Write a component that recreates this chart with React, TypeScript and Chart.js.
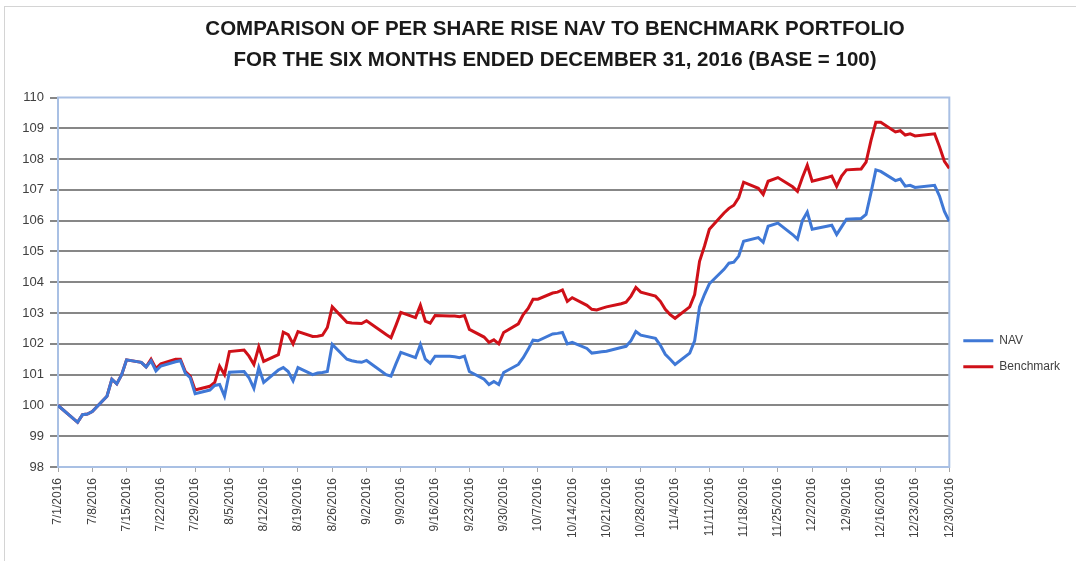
import React, { useEffect, useRef } from "react";
import { Chart, registerables } from "chart.js";

Chart.register(...registerables);

const TITLE_LINES = [
  "COMPARISON OF PER SHARE RISE NAV TO BENCHMARK PORTFOLIO",
  "FOR THE SIX MONTHS ENDED DECEMBER 31, 2016 (BASE = 100)",
];
const SERIES_NAMES = ["NAV", "Benchmark"];

// trading days (2016)
const tradingDates = [
  "7/1", "7/5", "7/6", "7/7", "7/8", "7/11", "7/12", "7/13", "7/14", "7/15",
  "7/18", "7/19", "7/20", "7/21", "7/22", "7/25", "7/26", "7/27", "7/28", "7/29",
  "8/1", "8/2", "8/3", "8/4", "8/5", "8/8", "8/9", "8/10", "8/11", "8/12",
  "8/15", "8/16", "8/17", "8/18", "8/19", "8/22", "8/23", "8/24", "8/25", "8/26",
  "8/29", "8/30", "8/31",
  "9/1", "9/2", "9/6", "9/7", "9/8", "9/9", "9/12", "9/13", "9/14", "9/15", "9/16",
  "9/19", "9/20", "9/21", "9/22", "9/23", "9/26", "9/27", "9/28", "9/29", "9/30",
  "10/3", "10/4", "10/5", "10/6", "10/7", "10/10", "10/11", "10/12", "10/13", "10/14",
  "10/17", "10/18", "10/19", "10/20", "10/21", "10/24", "10/25", "10/26", "10/27", "10/28",
  "10/31",
  "11/1", "11/2", "11/3", "11/4", "11/7", "11/8", "11/9", "11/10", "11/11",
  "11/14", "11/15", "11/16", "11/17", "11/18", "11/21", "11/22", "11/23", "11/25",
  "11/28", "11/29", "11/30",
  "12/1", "12/2", "12/5", "12/6", "12/7", "12/8", "12/9", "12/12", "12/13", "12/14",
  "12/15", "12/16", "12/19", "12/20", "12/21", "12/22", "12/23", "12/27", "12/28", "12/29",
  "12/30",
];

const navValues = [
  // July
  100.0, 99.45, 99.7, 99.72, 99.8, 100.3, 100.85, 100.7, 101.0, 101.48,
  101.4, 101.25, 101.45, 101.12, 101.28, 101.42, 101.45, 101.05, 100.9, 100.38,
  // August
  100.5, 100.65, 100.68, 100.3, 101.08, 101.1, 100.9, 100.55, 101.23, 100.75,
  101.15, 101.23, 101.1, 100.8, 101.23, 101.0, 101.05, 101.07, 101.1, 101.98,
  101.5, 101.45, 101.42,
  // September
  101.4, 101.46, 101.0, 100.95, 101.35, 101.72, 101.55, 101.98, 101.5, 101.37, 101.6,
  101.6, 101.58, 101.55, 101.6, 101.1, 100.85, 100.68, 100.78, 100.68, 101.07,
  // October
  101.33, 101.55, 101.82, 102.12, 102.1, 102.32, 102.34, 102.37, 102.0, 102.05,
  101.85, 101.7, 101.72, 101.74, 101.76, 101.88, 101.92, 102.1, 102.4, 102.28,
  102.18,
  // November
  101.95, 101.66, 101.5, 101.33, 101.7, 102.1, 103.2, 103.6, 103.95,
  104.42, 104.62, 104.65, 104.85, 105.33, 105.45, 105.3, 105.82, 105.92,
  105.55, 105.4, 106.0,
  // December
  106.28, 105.72, 105.82, 105.85, 105.55, 105.8, 106.05, 106.07, 106.2, 106.9,
  107.65, 107.6, 107.3, 107.35, 107.12, 107.15, 107.08, 107.15, 106.8, 106.3,
  105.98,
];

const benchmarkValues = [
  // July
  100.0, 99.45, 99.7, 99.72, 99.8, 100.3, 100.85, 100.7, 101.0, 101.48,
  101.4, 101.25, 101.5, 101.2, 101.35, 101.5, 101.5, 101.1, 100.95, 100.5,
  // August
  100.62, 100.75, 101.27, 101.0, 101.75, 101.8, 101.6, 101.33, 101.9, 101.43,
  101.65, 102.38, 102.3, 102.0, 102.4, 102.24, 102.25, 102.28, 102.53, 103.2,
  102.7, 102.68, 102.67,
  // September
  102.66, 102.75, 102.3, 102.2, 102.6, 103.02, 102.85, 103.25, 102.74, 102.67, 102.92,
  102.9, 102.9, 102.88, 102.92, 102.47, 102.22, 102.05, 102.13, 102.0, 102.37,
  // October
  102.65, 102.95, 103.15, 103.45, 103.45, 103.65, 103.68, 103.75, 103.38, 103.5,
  103.25, 103.12, 103.1, 103.15, 103.2, 103.3, 103.35, 103.55, 103.83, 103.68,
  103.55,
  // November
  103.38, 103.12, 102.95, 102.83, 103.2, 103.6, 104.68, 105.17, 105.72,
  106.25, 106.4, 106.5, 106.75, 107.25, 107.05, 106.85, 107.28, 107.4,
  107.1, 106.95, 107.4,
  // December
  107.8, 107.28, 107.4, 107.45, 107.12, 107.45, 107.65, 107.68, 107.9, 108.6,
  109.2, 109.2, 108.88, 108.92, 108.78, 108.82, 108.75, 108.82, 108.4, 107.93,
  107.7,
];

const Y_MIN = 98;
const Y_MAX = 110;
const X_DAYS = 182; // 7/1/2016 .. 12/30/2016
const TICK_EVERY_DAYS = 7;

const START = new Date(2016, 6, 1);
const dayOffset = (s: string) => {
  const [m, d] = s.split("/").map(Number);
  return Math.round((new Date(2016, m - 1, d).getTime() - START.getTime()) / 86400000);
};
const dayLabel = (offset: number) => {
  const dt = new Date(2016, 6, 1 + offset);
  return `${dt.getMonth() + 1}/${dt.getDate()}/${dt.getFullYear()}`;
};

const FONT = "'Liberation Sans', Arial, sans-serif";

const framePlugin = {
  id: "frame",
  afterLayout(chart: any) {
    // title is centred a little to the right of the canvas centre
    if (chart.titleBlock) chart.titleBlock.left = 40;
  },
  beforeDraw(chart: any) {
    const { ctx } = chart;
    ctx.save();
    ctx.fillStyle = "#ffffff";
    ctx.fillRect(0, 0, chart.width, chart.height);
    ctx.strokeStyle = "#d4d4d4";
    ctx.lineWidth = 1;
    ctx.strokeRect(4.5, 6.5, chart.width + 20, chart.height + 20);
    ctx.restore();
  },
  beforeDatasetsDraw(chart: any) {
    const { ctx, chartArea: a } = chart;
    ctx.save();
    ctx.strokeStyle = "#a9c0e4";
    ctx.lineWidth = 2;
    ctx.strokeRect(a.left, a.top, a.right - a.left, a.bottom - a.top);
    ctx.restore();
  },
};

export default function App() {
  const ref = useRef<HTMLCanvasElement | null>(null);

  useEffect(() => {
    if (!ref.current) return;
    const xs = tradingDates.map(dayOffset);
    const chart = new Chart(ref.current, {
      type: "line",
      data: {
        datasets: [
          {
            label: SERIES_NAMES[0],
            data: xs.map((x, i) => ({ x, y: navValues[i] })),
            borderColor: "#3f78d6",
            backgroundColor: "#3f78d6",
            borderWidth: 3,
            pointRadius: 0,
            pointStyle: "line",
            tension: 0,
          },
          {
            label: SERIES_NAMES[1],
            data: xs.map((x, i) => ({ x, y: benchmarkValues[i] })),
            borderColor: "#cf1018",
            backgroundColor: "#cf1018",
            borderWidth: 3,
            pointRadius: 0,
            pointStyle: "line",
            tension: 0,
          },
        ],
      },
      options: {
        animation: false,
        responsive: false,
        maintainAspectRatio: false,
        layout: { padding: { left: 8, right: 6, top: 0, bottom: 0 } },
        plugins: {
          title: {
            display: true,
            text: TITLE_LINES,
            color: "#1a1a1a",
            font: { family: FONT, size: 20.5, weight: "bold", lineHeight: 1.5 },
            padding: { top: 14, bottom: 22 },
          },
          legend: {
            position: "right",
            title: {
              display: true,
              text: " ",
              font: { family: FONT, size: 12, lineHeight: 1.2 },
              padding: { top: 132, bottom: 0 },
            },
            labels: {
              usePointStyle: true,
              pointStyle: "line",
              pointStyleWidth: 30,
              boxHeight: 12,
              padding: 14,
              color: "#404040",
              font: { family: FONT, size: 12 },
            },
          },
          tooltip: { enabled: false },
        },
        scales: {
          x: {
            type: "linear",
            min: 0,
            max: X_DAYS,
            border: { display: false },
            grid: {
              display: true,
              drawOnChartArea: false,
              drawTicks: true,
              tickLength: 5,
              tickColor: "#a6a6a6",
            },
            ticks: {
              stepSize: TICK_EVERY_DAYS,
              autoSkip: false,
              maxRotation: 90,
              minRotation: 90,
              padding: 6,
              color: "#404040",
              font: { family: FONT, size: 12 },
              callback: (v: any) => dayLabel(Number(v)),
            },
            afterFit: (s: any) => {
              s.height = 94;
            },
          },
          y: {
            min: Y_MIN,
            max: Y_MAX,
            border: { display: false },
            grid: {
              color: (c: any) =>
                c.tick && (c.tick.value === Y_MIN || c.tick.value === Y_MAX) ? "rgba(0,0,0,0)" : "#878787",
              lineWidth: 2,
              tickLength: 8,
              tickColor: "#878787",
            },
            ticks: {
              stepSize: 1,
              padding: 6,
              color: "#404040",
              font: { family: FONT, size: 13 },
            },
            afterFit: (s: any) => {
              s.width = 50;
            },
          },
        },
      },
      plugins: [framePlugin],
    });
    return () => chart.destroy();
  }, []);

  return (
    <div style={{ position: "fixed", left: 0, top: 0, width: 1076, height: 561, background: "#fff" }}>
      <canvas ref={ref} width={1076} height={561} style={{ width: 1076, height: 561, display: "block" }} />
    </div>
  );
}
